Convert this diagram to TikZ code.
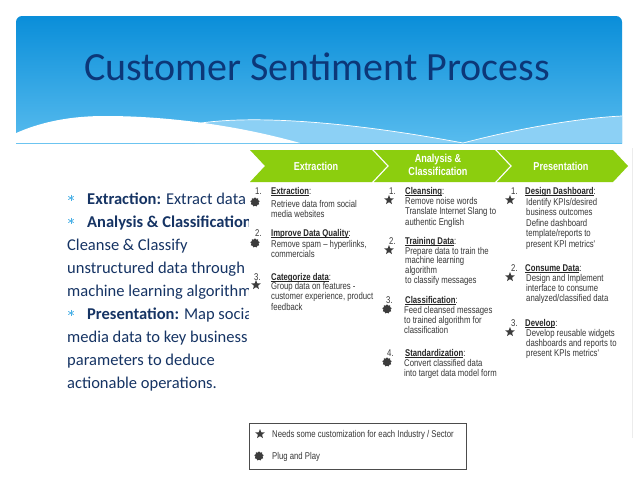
\documentclass[tikz,border=0pt]{standalone}
\usepackage{fontspec}
\setmainfont{Carlito}
\newfontfamily\tblfont[FakeStretch=0.79]{Liberation Sans}
\usetikzlibrary{shapes.geometric}
\definecolor{hdtop}{RGB}{10,142,217}
\definecolor{hdbot}{RGB}{95,192,240}
\definecolor{band}{RGB}{140,208,245}
\definecolor{titleblue}{RGB}{12,55,120}
\definecolor{bodyblue}{RGB}{22,52,100}
\definecolor{bulletblue}{RGB}{70,175,230}
\definecolor{chev}{RGB}{140,206,14}
\definecolor{tblgray}{RGB}{55,55,55}
\definecolor{icongray}{RGB}{60,60,60}
\newcommand\ulx[1]{\setbox0\hbox{#1}\rlap{\rule[-1.3pt]{\wd0}{0.5pt}}\box0}
\tikzset{
 tx/.style={anchor=base west, inner sep=0pt, font=\tblfont\fontsize{9.8}{10}\selectfont, text=tblgray},
 hd/.style={tx, text=black!85, font=\tblfont\bfseries\fontsize{9.8}{10}\selectfont},
 starico/.style={star, star points=5, star point ratio=2.3, fill=icongray, inner sep=0pt, minimum size=10pt},
 gearico/.style={star, star points=9, star point ratio=1.3, fill=icongray, inner sep=0pt, minimum size=9.5pt},
 lefttx/.style={anchor=base west, inner sep=0pt, font=\fontsize{16.5}{20}\selectfont, text=bodyblue},
 bulstar/.style={circle, inner sep=0pt, minimum size=8pt, path picture={
   \draw[bulletblue, line width=0.7pt] ([shift={(90:3.2pt)}]path picture bounding box.center) -- ([shift={(270:3.2pt)}]path picture bounding box.center);
   \draw[bulletblue, line width=0.7pt] ([shift={(30:3.2pt)}]path picture bounding box.center) -- ([shift={(210:3.2pt)}]path picture bounding box.center);
   \draw[bulletblue, line width=0.7pt] ([shift={(150:3.2pt)}]path picture bounding box.center) -- ([shift={(330:3.2pt)}]path picture bounding box.center);}},
 chevlabel/.style={font=\tblfont\bfseries\fontsize{11.5}{12.5}\selectfont, text=white, align=center, inner sep=0pt},
 chevron/.style={fill=chev},
}
\newcommand\tpara[5]{%
 \foreach \tline [count=\ti] in {#4} {\node[tx] (#1-\ti) at (#2,{#3+(\ti-1)*#5}) {\tline};}}
\begin{document}
\begin{tikzpicture}[x=1pt,y=-1pt]
\useasboundingbox (0,0) rectangle (638,479);
\fill[white] (0,0) rectangle (638,479);
% header
\begin{scope}
 \clip (0,0) rectangle (638,143);
 \shade[top color=hdtop, bottom color=hdbot, rounded corners=6] (16,16) rectangle (622,155);
 \fill[band] (195,124) .. controls (240,116) and (330,118) .. (463,143) -- (195,143) -- cycle;
 \fill[band] (463,143) .. controls (520,128) and (580,118) .. (622,116) -- (622,143) -- cycle;
 \draw[white, line width=0.7] (195,124) .. controls (240,116) and (330,118) .. (463,143);
 \draw[white, line width=0.7] (463,143) .. controls (520,128) and (580,118) .. (622,116);
 \fill[white] (14,134) .. controls (40,122) and (70,116) .. (105,116) .. controls (170,116) and (240,126) .. (300,143) -- (14,143) -- cycle;
\end{scope}
\node[anchor=base, inner sep=0pt, font=\fontsize{40}{48}\selectfont, text=titleblue] (title) at (317,80) {Customer Sentiment Process};
% left text
\begin{scope}
 \clip (0,150) rectangle (248,479);
 \node[bulstar] (b1) at (71,198) {};
 \node[lefttx] (l1) at (87,204) {\textbf{Extraction:} Extract data};
 \node[bulstar] (b2) at (71,221) {};
 \node[lefttx] (l2) at (87,227) {\textbf{Analysis \& Classification}};
 \node[lefttx] (l3) at (67,250) {Cleanse \& Classify};
 \node[lefttx] (l4) at (67,273) {unstructured data through};
 \node[lefttx] (l5) at (67,296) {machine learning algorithm};
 \node[bulstar] (b3) at (71,313) {};
 \node[lefttx] (l6) at (87,319) {\textbf{Presentation:} Map social};
 \node[lefttx] (l7) at (67,342) {media data to key business};
 \node[lefttx] (l8) at (67,365) {parameters to  deduce};
 \node[lefttx] (l9) at (67,388) {actionable operations.};
\end{scope}
\draw[gray!15] (632,148) -- (632,438);
% chevrons
\fill[chevron] (250,150) -- (372,150) -- (387,166) -- (372,182) -- (250,182) -- (265,166) -- cycle;
\fill[chevron] (374,150) -- (495,150) -- (510,166) -- (495,182) -- (374,182) -- (389,166) -- cycle;
\fill[chevron] (497,150) -- (613,150) -- (628,166) -- (613,182) -- (497,182) -- (512,166) -- cycle;
\node[chevlabel] (c1) at (316,166) {Extraction};
\node[chevlabel] (c2) at (438,165) {Analysis \&\\Classification};
\node[chevlabel] (c3) at (561,166) {Presentation};
% column 1
\node[tx] (n11) at (255,194) {1.};
\node[hd] (h11) at (271,194) {\ulx{Extraction}\mdseries:};
\node[gearico] (i11) at (255,202) {};
\tpara{b11}{271}{207}{Retrieve data from social, media websites}{10.5}
\node[tx] (n12) at (255,236) {2.};
\node[hd] (h12) at (271,236) {\ulx{Improve Data Quality}\mdseries:};
\node[gearico] (i12) at (255,243) {};
\tpara{b12}{271}{247}{{Remove spam – hyperlinks,}, commercials}{10.5}
\node[tx] (n13) at (254,280) {3.};
\node[hd] (h13) at (271,280) {\ulx{Categorize data}\mdseries:};
\node[starico] (i13) at (256,285) {};
\tpara{b13}{271}{289}{Group  data on features -, {customer experience, product}, feedback}{10.8}
% column 2
\node[tx] (n21) at (389,194) {1.};
\node[hd] (h21) at (405,194) {\ulx{Cleansing}\mdseries:};
\node[starico] (i21) at (389,200) {};
\tpara{b21}{405}{204}{Remove noise words, Translate Internet Slang to, authentic English}{10.5}
\node[tx] (n22) at (389,244) {2.};
\node[hd] (h22) at (405,244) {\ulx{Training Data}\mdseries:};
\node[starico] (i22) at (389,250) {};
\tpara{b22}{405}{254}{Prepare data to train the, machine learning, algorithm, to classify  messages}{9.8}
\node[tx] (n23) at (386,303) {3.};
\node[hd] (h23) at (405,303) {\ulx{Classification}\mdseries:};
\node[gearico] (i23) at (387,309) {};
\tpara{b23}{404}{313}{Feed cleansed  messages, to trained algorithm for, classification}{10}
\node[tx] (n24) at (387,356) {4.};
\node[hd] (h24) at (405,356) {\ulx{Standardization}\mdseries:};
\node[gearico] (i24) at (387,362) {};
\tpara{b24}{404}{366}{Convert classified  data, into target data model form}{10}
% column 3
\node[tx] (n31) at (511,194) {1.};
\node[hd] (h31) at (525,194) {\ulx{Design Dashboard}\mdseries:};
\node[starico] (i31) at (510,200) {};
\tpara{b31}{526}{205}{Identify KPIs/desired, business outcomes, Define dashboard, template/reports to, present KPI metrics'}{10.5}
\node[tx] (n32) at (511,271) {2.};
\node[hd] (h32) at (525,271) {\ulx{Consume Data}\mdseries:};
\node[starico] (i32) at (510,277) {};
\tpara{b32}{526}{281}{Design and  Implement, interface to consume, analyzed/classified  data}{10}
\node[tx] (n33) at (511,326) {3.};
\node[hd] (h33) at (525,326) {\ulx{Develop}\mdseries:};
\node[starico] (i33) at (510,332) {};
\tpara{b33}{526}{336}{Develop reusable widgets, dashboards and reports to, present KPIs metrics'}{10}
% legend
\node[draw=black!70, line width=0.6pt, minimum width=217pt, minimum height=46pt, inner sep=0pt] (legend) at (357.5,446) {};
\node[starico] (ls) at (260,434) {};
\node[tx] (lt1) at (272,437) {Needs some customization  for each Industry / Sector};
\node[gearico] (lg) at (259,456) {};
\node[tx] (lt2) at (272,459) {Plug and Play};
\end{tikzpicture}
\end{document}
